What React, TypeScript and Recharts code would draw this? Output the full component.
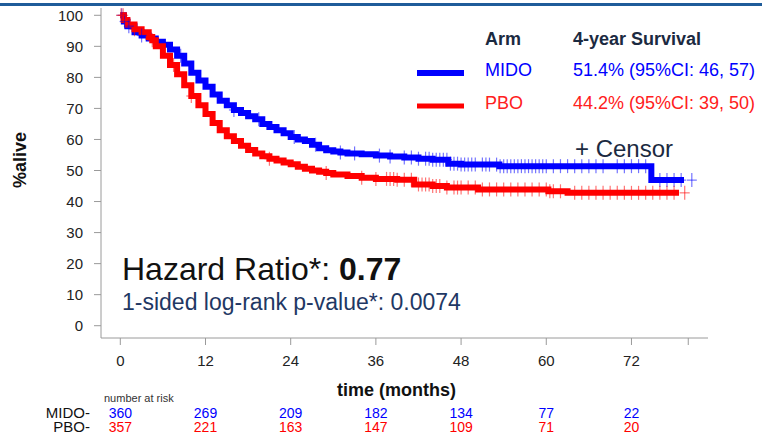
import React from 'react';
import { ComposedChart, Line, Scatter, XAxis, YAxis } from 'recharts';

// ---- axis ticks ----
const monthTicks = [0, 12, 24, 36, 48, 60, 72, 80];
const percentTicks = [0, 10, 20, 30, 40, 50, 60, 70, 80, 90, 100];

// ---- number at risk ----
const atRiskTimes = [0, 12, 24, 36, 48, 60, 72];
const midoAtRisk = [360, 269, 209, 182, 134, 77, 22];
const pboAtRisk = [357, 221, 163, 147, 109, 71, 20];

// ---- Kaplan-Meier step points (months, % alive) ----
const midoTimes = [0, 0.5, 1, 2, 3, 4, 5, 6, 7, 8, 9, 10, 11, 12, 13, 14, 15, 16, 17, 18, 19, 20, 21, 22, 23, 24, 25, 26, 27, 28, 29, 30, 31, 32, 34, 36, 38, 40, 42, 44, 46.2, 48, 53.4, 74.8, 79.4];
const midoSurv = [100, 98, 96.5, 94.5, 93.5, 92.5, 91.5, 90.5, 89, 87, 84.5, 81.5, 79, 77, 74.5, 72.5, 71, 69.5, 68.5, 67.5, 66.5, 65, 64, 63, 62, 60.8, 60, 59.5, 58.3, 57.2, 56.5, 56.1, 55.8, 55.5, 55.2, 54.8, 54.5, 54.2, 53.8, 53.5, 52.2, 51.9, 51.4, 46.9, 46.9];

const pboTimes = [0, 0.5, 1, 2, 3, 4, 4.5, 5, 6, 7, 8, 9, 10, 11, 12, 13, 14, 15, 16, 17, 18, 19, 20, 21, 22, 23, 24, 25, 26, 27, 28, 29, 30, 32, 34, 36, 39, 41.4, 44, 46, 50.4, 60.3, 63, 78.7];
const pboSurv = [100, 98.5, 97, 95.5, 94.5, 93, 92, 90, 87, 84, 81, 77.5, 74, 71, 68.2, 65.3, 63, 61, 59.5, 58, 56.6, 55.5, 54.6, 53.8, 53.2, 52.6, 52, 51.2, 50.6, 50, 49.6, 49.2, 48.7, 48.2, 47.7, 47.3, 47, 45.5, 45, 44.5, 43.9, 43.3, 42.8, 42.8];

// ---- censor times (months) ----
const midoCensorTimes = [0.2, 0.6, 1.2, 3, 8.5, 16, 19.5, 24.5, 27.5, 31, 33, 36.5, 38, 40, 41, 42, 43, 43.5, 44, 44.5, 45, 45.5, 46, 46.5, 47, 47.5, 48, 48.5, 49, 49.5, 50, 51, 51.5, 52, 53, 53.5, 54, 54.5, 55, 55.5, 56, 56.5, 57, 57.5, 58, 58.5, 59, 59.5, 60, 61, 62, 63, 64, 65, 66, 67, 68, 70, 71, 72, 73, 74, 76, 77, 78, 79, 80.5];
const pboCensorTimes = [0.1, 0.4, 0.8, 2, 4.5, 7.5, 10, 21, 29, 34, 36, 37.5, 38, 38.5, 39, 40, 41, 42, 42.5, 43, 43.5, 44, 44.5, 45, 46, 47, 47.5, 48, 49, 50, 51, 52, 53, 54, 55, 56, 57, 58, 59, 60, 60.5, 61, 62, 64, 65, 66, 67, 68, 69, 70, 71, 72, 73, 74, 75, 76, 77, 78, 79.5];

const toSeries = (ts: number[], vs: number[]) => ts.map((t, i) => ({ t, v: vs[i] }));
const stepValue = (ts: number[], vs: number[], t: number) => {
  let v = vs[0];
  for (let i = 0; i < ts.length; i++) if (ts[i] <= t) v = vs[i];
  return v;
};

const midoData = toSeries(midoTimes, midoSurv);
const pboData = toSeries(pboTimes, pboSurv);
const midoCensor = midoCensorTimes.map((t) => ({ t, v: stepValue(midoTimes, midoSurv, t) }));
const pboCensor = pboCensorTimes.map((t) => ({ t, v: stepValue(pboTimes, pboSurv, t) }));

const BLUE = '#0000ff';
const RED = '#ff0000';
const AXIS = '#9a9a9a';
const FONT = '"Liberation Sans", Arial, Helvetica, sans-serif';

const makePlus = (color: string) => (props: any) => {
  const { cx, cy } = props;
  if (cx == null || cy == null) return <g />;
  return (
    <g stroke={color} strokeWidth={1.2} strokeOpacity={0.55}>
      <line x1={cx} y1={cy - 7} x2={cx} y2={cy + 7} />
      <line x1={cx - 5} y1={cy} x2={cx + 5} y2={cy} />
    </g>
  );
};

const X_DOMAIN: [number, number] = [-2.72, 82.78];

export default function App() {
  return (
    <div style={{ position: 'absolute', left: 0, top: 0, width: 762, height: 438, fontFamily: FONT, background: '#fff' }}>
      <ComposedChart
        width={762}
        height={438}
        margin={{ top: 8, right: 54, left: 0, bottom: 6 }}
        style={{ fontFamily: FONT }}
      >
        <XAxis
          dataKey="t"
          type="number"
          domain={X_DOMAIN}
          allowDataOverflow
          ticks={monthTicks}
          interval={0}
          tickFormatter={(v: number) => (v === 80 ? '' : String(v))}
          height={58}
          tickSize={7}
          tickMargin={10}
          stroke={AXIS}
          tick={{ fill: '#222', fontSize: 15 }}
          label={{ value: 'time (months)', position: 'insideBottom', offset: 0, dx: -8, style: { fontWeight: 'bold', fontSize: 18, fill: '#111' } }}
        />
        <XAxis
          xAxisId="mido"
          dataKey="t"
          type="number"
          domain={X_DOMAIN}
          allowDataOverflow
          ticks={atRiskTimes}
          interval={0}
          tickFormatter={(v: number) => String(midoAtRisk[atRiskTimes.indexOf(v)])}
          height={22}
          axisLine={false}
          tickLine={false}
          tickSize={0}
          tickMargin={12}
          tick={{ fill: BLUE, fontSize: 14 }}
        />
        <XAxis
          xAxisId="pbo"
          dataKey="t"
          type="number"
          domain={X_DOMAIN}
          allowDataOverflow
          ticks={atRiskTimes}
          interval={0}
          tickFormatter={(v: number) => String(pboAtRisk[atRiskTimes.indexOf(v)])}
          height={14}
          axisLine={false}
          tickLine={false}
          tickSize={0}
          tickMargin={4}
          tick={{ fill: RED, fontSize: 14 }}
        />
        <YAxis
          dataKey="v"
          type="number"
          domain={[-3.96, 102.35]}
          allowDataOverflow
          ticks={percentTicks}
          interval={0}
          width={101}
          tickSize={7}
          tickMargin={11}
          stroke={AXIS}
          tick={{ fill: '#222', fontSize: 15 }}
        />
        <Line data={midoData} dataKey="v" type="stepAfter" stroke={BLUE} strokeWidth={6} dot={false} isAnimationActive={false} />
        <Line data={pboData} dataKey="v" type="stepAfter" stroke={RED} strokeWidth={6} dot={false} isAnimationActive={false} />
        <Scatter data={midoCensor} dataKey="v" shape={makePlus(BLUE)} isAnimationActive={false} />
        <Scatter data={pboCensor} dataKey="v" shape={makePlus(RED)} isAnimationActive={false} />
      </ComposedChart>

      <svg
        width={762}
        height={438}
        style={{ position: 'absolute', left: 0, top: 0, pointerEvents: 'none', fontFamily: FONT }}
      >
        <rect x={0} y={3} width={762} height={3} fill="#1f5c9a" />
        <text x={26} y={160} transform="rotate(-90 26 160)" textAnchor="middle" fontSize={18} fontWeight="bold" fill="#111">%alive</text>

        <text x={485} y={44.5} fontSize={18} fontWeight="bold" fill="#1b2a41">Arm</text>
        <text x={573} y={44.5} fontSize={18} fontWeight="bold" fill="#1b2a41">4-year Survival</text>
        <line x1={417} y1={73} x2={464} y2={73} stroke={BLUE} strokeWidth={6} />
        <text x={485} y={76} fontSize={18} fill={BLUE}>MIDO</text>
        <text x={573} y={76} fontSize={18} fill={BLUE}>51.4% (95%CI: 46, 57)</text>
        <line x1={417} y1={106} x2={464} y2={106} stroke={RED} strokeWidth={5} />
        <text x={485} y={108.5} fontSize={18} fill="#ff2020">PBO</text>
        <text x={573} y={108.5} fontSize={18} fill="#ff2020">44.2% (95%CI: 39, 50)</text>

        <text x={575} y={157} fontSize={24} fill="#1b2a41">+ Censor</text>

        <text x={122} y={280} fontSize={32} fill="#111" style={{ whiteSpace: 'pre' }}>
          <tspan>Hazard Ratio*: </tspan>
          <tspan fontWeight="bold">0.77</tspan>
        </text>
        <text x={122} y={310} fontSize={23} fill="#1f3864">1-sided log-rank p-value*: 0.0074</text>

        <text x={104} y={402} fontSize={11} fill="#333">number at risk</text>
        <text x={90} y={418} fontSize={15} fill="#111" textAnchor="end">MIDO-</text>
        <text x={90} y={432} fontSize={15} fill="#111" textAnchor="end">PBO-</text>
      </svg>
    </div>
  );
}
